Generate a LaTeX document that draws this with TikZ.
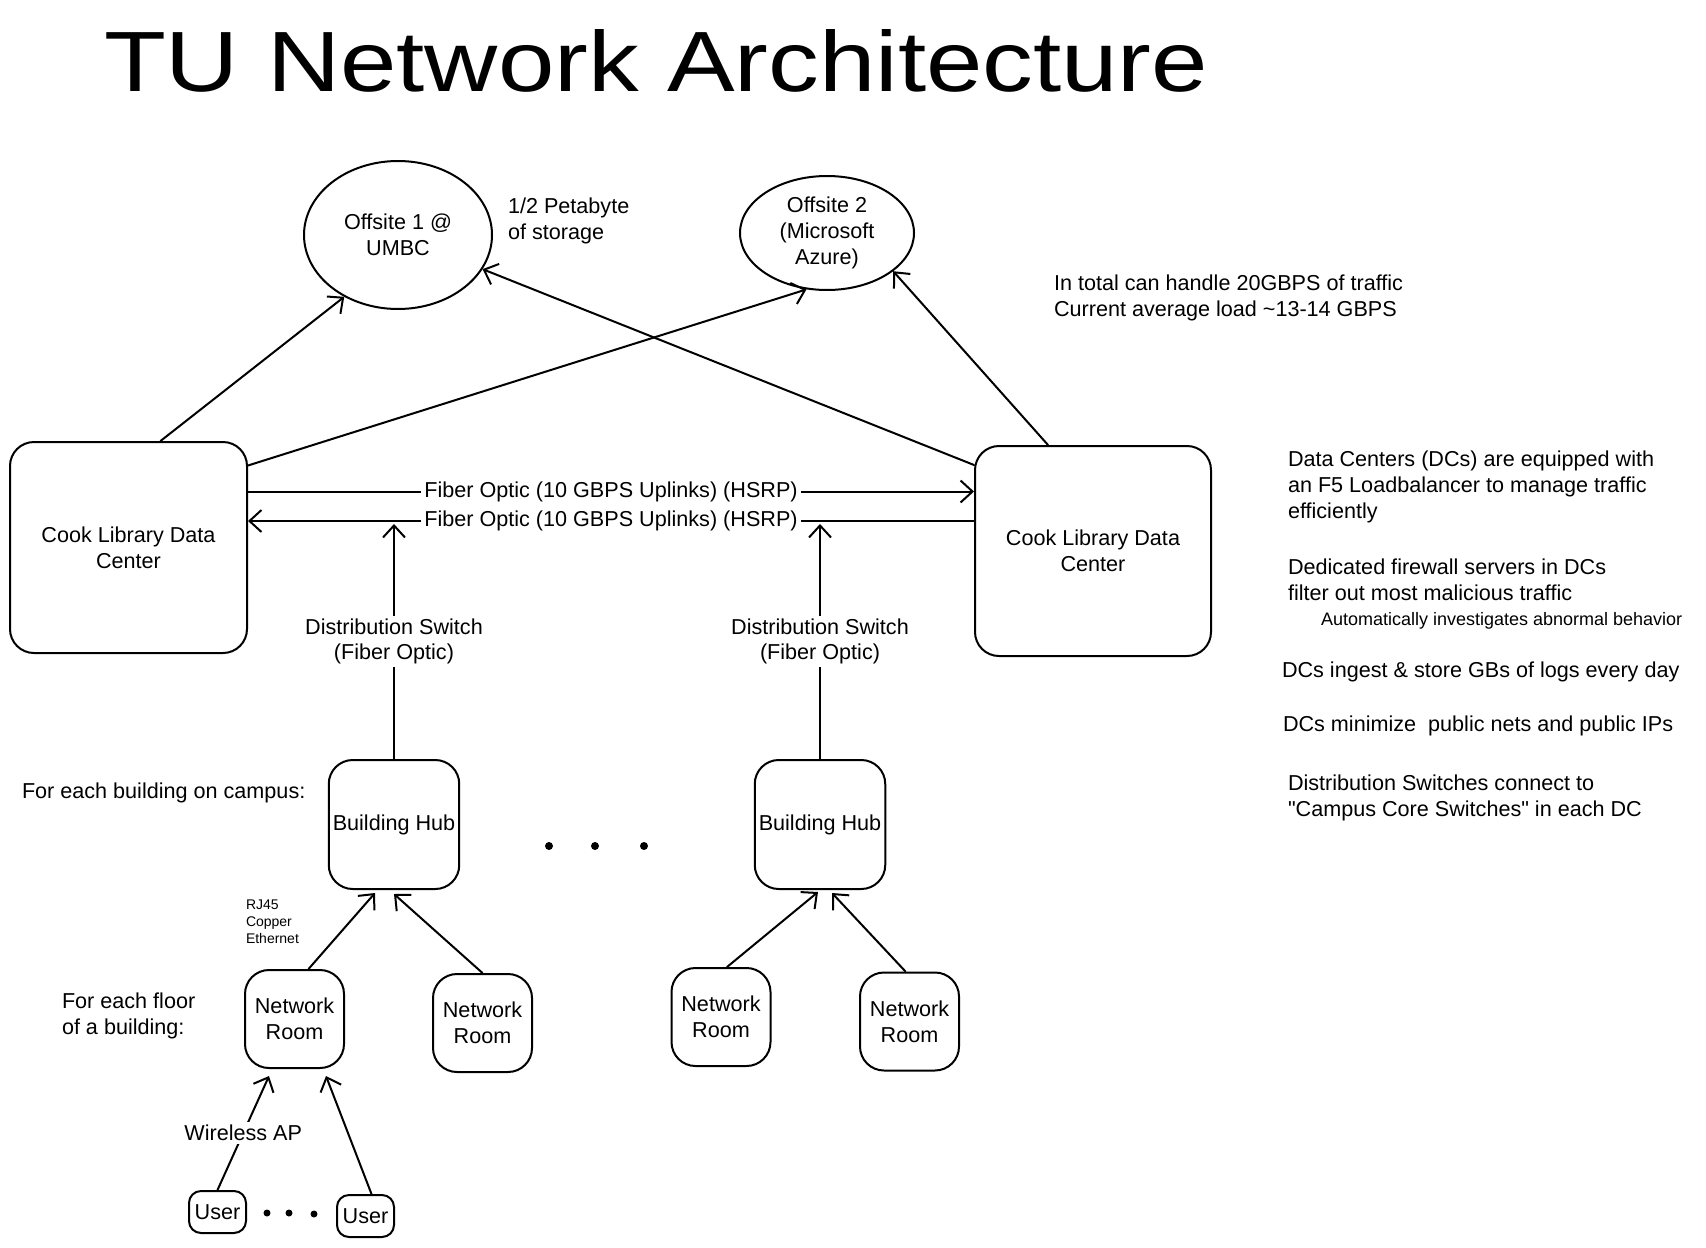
\documentclass[tikz,border=0pt]{standalone}
\usepackage{fontspec}
\setmainfont{Liberation Sans}[Ligatures=TeXOff]
\usetikzlibrary{arrows.meta,shapes.geometric}
\begin{document}
\begin{tikzpicture}[x=0.5pt,y=-0.5pt, line width=1pt,
  bodyfont/.style={font=\fontsize{10.8}{12.8}\selectfont},
  box/.style={draw, rounded corners=12pt, align=center, bodyfont, inner sep=2pt},
  oval/.style={draw, ellipse, align=center, inner sep=0pt, bodyfont},
  arr/.style={-{Straight Barb[length=6pt,width=11pt]}, line width=1pt, line cap=round},
  txt/.style={bodyfont, align=left, anchor=west, inner sep=0pt},
  lbl/.style={fill=white, bodyfont, inner sep=1.5pt, align=center},
  dotc/.style={circle, fill=black, inner sep=0pt, minimum size=4pt}]
\useasboundingbox (0,0) rectangle (1706,1247);

% title
\node[anchor=base west, inner sep=0pt, font=\fontsize{40}{46}\selectfont] (title) at (103,92) {\resizebox{552pt}{31pt}{TU Network Architecture}};

% offsites
\node[oval, minimum width=94pt, minimum height=74pt] (off1) at (398,235) {Offsite 1 @\\UMBC};
\node[oval, minimum width=87pt, minimum height=57pt] (off2) at (827,233) {Offsite 2\\(Microsoft\\Azure)};
\node[txt] (peta) at (507,221) {1/2 Petabyte\\of storage};
\node[txt] (total) at (1053,298) {In total can handle 20GBPS of traffic\\Current average load \textasciitilde13-14 GBPS};

% data centers
\node[box, minimum width=118.5pt, minimum height=105.5pt] (dcL) at (128.5,547.5) {Cook Library Data\\Center};
\node[box, minimum width=118pt, minimum height=105pt] (dcR) at (1093,551) {Cook Library Data\\Center};

% DC to offsites
\draw[arr] ([xshift=16pt]dcL.north) -- (off1.229);
\draw[arr] ([yshift=41pt]dcL.east) -- (off2.250);
\draw[arr] ([yshift=43pt]dcR.west) -- (off1.338);
\draw[arr] ([xshift=-22.5pt]dcR.north) -- (off2.330);

% fiber links
\coordinate (f1) at ([yshift=28pt]dcL.east);
\coordinate (f2) at ([yshift=15pt]dcR.west);
\draw[arr] (f1) -- node[lbl] (fl1) {Fiber Optic (10 GBPS Uplinks) (HSRP)} (f1 -| dcR.west);
\draw[arr] (f2) -- node[lbl] (fl2) {Fiber Optic (10 GBPS Uplinks) (HSRP)} (f2 -| dcL.east);

% building hubs
\node[box, minimum width=63pt, minimum height=64.5pt] (hub1) at (394,824.5) {Building Hub};
\node[box, minimum width=63pt, minimum height=64.5pt] (hub2) at (820,824.5) {Building Hub};
\coordinate (f2b) at ([yshift=-1.5pt]f2);
\draw[arr] (hub1.north) -- node[lbl] (ds1) {Distribution Switch\\(Fiber Optic)} (hub1.north |- f2b);
\draw[arr] (hub2.north) -- node[lbl] (ds2) {Distribution Switch\\(Fiber Optic)} (hub2.north |- f2b);

\node[txt] (eachb) at (21,793) {For each building on campus:};
\node[dotc] (hd1) at (549,846) {};
\node[dotc] (hd2) at (595,846) {};
\node[dotc] (hd3) at (644,846) {};

% network rooms
\node[box, minimum width=49.5pt, minimum height=49pt] (nr1) at (294.5,1019) {Network\\Room};
\node[box, minimum width=49.5pt, minimum height=49pt] (nr2) at (482.5,1023) {Network\\Room};
\node[box, minimum width=49.5pt, minimum height=49pt] (nr3) at (721,1017) {Network\\Room};
\node[box, minimum width=49.5pt, minimum height=49pt] (nr4) at (909.5,1021.5) {Network\\Room};

\draw[arr] ([xshift=7pt]nr1.north) -- ([xshift=-9.5pt,yshift=-1.5pt]hub1.south);
\draw[arr] (nr2.north) -- ([yshift=-2pt]hub1.south);
\draw[arr] ([xshift=3pt]nr3.north) -- ([xshift=-1pt,yshift=-1pt]hub2.south);
\draw[arr] ([xshift=-2pt]nr4.north) -- ([xshift=6pt,yshift=-1.5pt]hub2.south);

\node[txt, font=\fontsize{7}{8.5}\selectfont] (rj) at (245,922) {RJ45\\Copper\\Ethernet};
\node[txt] (eachf) at (61,1016) {For each floor\\of a building:};

% users
\node[box, rounded corners=6pt, minimum width=28.5pt, minimum height=21pt, inner sep=1pt] (u1) at (217.5,1212) {User};
\node[box, rounded corners=6pt, minimum width=28.5pt, minimum height=21pt, inner sep=1pt] (u2) at (365.5,1216) {User};
\node[dotc, minimum size=3.5pt] (ud1) at (267,1213) {};
\node[dotc, minimum size=3.5pt] (ud2) at (289,1213) {};
\node[dotc, minimum size=3.5pt] (ud3) at (314,1214) {};

\draw[arr] (u1.north) -- node[lbl] (wap) {Wireless AP} ([xshift=-12.75pt,yshift=-3.5pt]nr1.south);
\draw[arr] ([xshift=3pt]u2.north) -- ([xshift=15.75pt,yshift=-3.5pt]nr1.south);

% notes on the right
\node[txt] (n1) at (1287,487) {Data Centers (DCs) are equipped with\\an F5 Loadbalancer to manage traffic\\efficiently};
\node[txt] (n2) at (1287,580) {Dedicated firewall servers in DCs\\filter out most malicious traffic};
\node[txt, font=\fontsize{9}{10.5}\selectfont] (n3) at (1320,621) {Automatically investigates abnormal behavior};
\node[txt] (n4) at (1281,672) {DCs ingest \& store GBs of logs every day};
\node[txt] (n5) at (1282,726) {DCs minimize\ \ public nets and public IPs};
\node[txt] (n6) at (1287,798) {Distribution Switches connect to\\"Campus Core Switches" in each DC};
\end{tikzpicture}
\end{document}
